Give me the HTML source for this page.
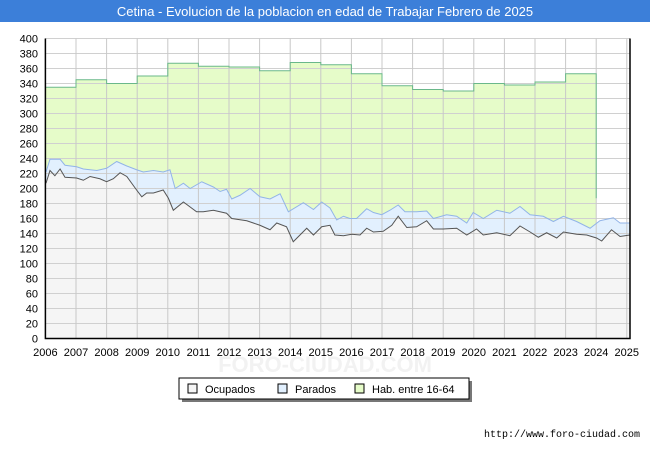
<!DOCTYPE html>
<html><head><meta charset="utf-8"><style>
body{margin:0;background:#fff;font-family:"Liberation Sans",sans-serif}
#wrap{position:relative;width:650px;height:450px;overflow:hidden}
</style></head><body>
<div id="wrap">
<svg id="c" width="650" height="450"></svg>
</div>
<script>
const habYears=[2006,2007,2008,2009,2010,2011,2012,2013,2014,2015,2016,2017,2018,2019,2020,2021,2022,2023];
const habValues=[335,345,340,350,367,363,362,357,368,365,353,337,332,330,340,338,342,353];
const habEndValue=187;
const ocuDates=[2006.02,2006.15,2006.31,2006.48,2006.64,2007.02,2007.24,2007.46,2007.78,2008.0,2008.22,2008.44,2008.66,2008.98,2009.15,2009.31,2009.53,2009.85,2010.02,2010.18,2010.51,2010.94,2011.16,2011.49,2011.92,2012.09,2012.58,2013.01,2013.34,2013.56,2013.88,2014.10,2014.54,2014.76,2015.03,2015.30,2015.46,2015.74,2016.01,2016.28,2016.50,2016.72,2017.04,2017.32,2017.53,2017.81,2018.13,2018.46,2018.68,2019.00,2019.44,2019.77,2020.09,2020.31,2020.75,2021.18,2021.51,2021.84,2022.11,2022.38,2022.71,2022.93,2023.36,2023.69,2024.01,2024.18,2024.50,2024.78,2025.10];
const ocuValues=[207,224,217,226,215,214,211,216,213,209,213,221,216,198,189,194,194,198,187,171,182,169,169,171,167,160,157,151,145,154,149,129,147,138,149,151,138,137,139,138,147,142,143,151,163,148,149,157,146,146,147,138,146,138,141,137,150,142,135,141,134,142,139,138,134,130,145,136,138];
const parDates=[2006.02,2006.15,2006.48,2006.64,2007.02,2007.24,2007.68,2008.0,2008.33,2008.66,2008.98,2009.20,2009.53,2009.85,2010.07,2010.24,2010.51,2010.73,2011.11,2011.49,2011.71,2011.92,2012.09,2012.36,2012.69,2013.01,2013.34,2013.67,2013.94,2014.43,2014.76,2015.03,2015.30,2015.52,2015.74,2015.95,2016.17,2016.50,2016.72,2016.99,2017.26,2017.53,2017.75,2018.13,2018.46,2018.68,2019.11,2019.44,2019.77,2019.98,2020.31,2020.75,2021.18,2021.51,2021.84,2022.27,2022.60,2022.93,2023.36,2023.80,2024.12,2024.56,2024.78,2025.10];
const parValues=[222,239,239,231,229,226,224,227,236,230,225,222,224,222,225,200,207,200,209,202,196,199,186,191,200,189,186,193,169,181,172,182,174,158,163,160,160,173,168,165,171,178,169,169,170,160,165,163,154,168,160,171,167,176,165,163,156,163,156,147,157,161,154,154];
const yTicks=[0,20,40,60,80,100,120,140,160,180,200,220,240,260,280,300,320,340,360,380,400];
const xTicks=[2006,2007,2008,2009,2010,2011,2012,2013,2014,2015,2016,2017,2018,2019,2020,2021,2022,2023,2024,2025];

const NS="http://www.w3.org/2000/svg";
const svg=document.getElementById('c');
const X0=45.4,X1=630,Y0=338.5,Y1=38.5;
const x=v=>X0+(v-2006)*30.6;
const y=v=>Y0-(v/400)*(Y0-Y1);
function mk(tag,attrs,parent){const e=document.createElementNS(NS,tag);for(const k in attrs)e.setAttribute(k,attrs[k]);(parent||svg).appendChild(e);return e;}

let e=mk('rect',{x:0,y:0,width:650,height:22,fill:'#3c7fd9'});


e=mk('text',{x:325,y:16,'text-anchor':'middle','font-size':13,fill:'#fff','font-family':'Liberation Sans, sans-serif'});
e.textContent='Cetina - Evolucion de la poblacion en edad de Trabajar Febrero de 2025';



e=mk('rect',{x:X0,y:Y1,width:X1-X0,height:Y0-Y1,fill:'#fff'});



// green area
let hp=`M${x(habYears[0])},${y(0)}`;
habYears.forEach((yr,i)=>{hp+=` L${x(yr)},${y(habValues[i])} L${x(yr+1)},${y(habValues[i])}`;});
const lastYr=habYears[habYears.length-1]+1;
hp+=` L${x(lastYr)},${y(habEndValue)} L${x(lastYr)},${y(0)} Z`;
e=mk('path',{d:hp,fill:'#e6fcc9',stroke:'none'});



function areaPath(d,v){let p=`M${x(d[0])},${y(0)}`;d.forEach((t,i)=>p+=` L${x(t)},${y(v[i])}`);p+=` L${x(d[d.length-1])},${y(0)} Z`;return p;}
function linePath(d,v){return d.map((t,i)=>(i?'L':'M')+x(t)+','+y(v[i])).join(' ');}
e=mk('path',{d:areaPath(parDates,parValues),fill:'#e2f0fe'});


e=mk('path',{d:areaPath(ocuDates,ocuValues),fill:'#f5f5f5'});



// grid
yTicks.forEach(t=>{const g=mk('line',{x1:X0,x2:X1,y1:y(t),y2:y(t),stroke:'#d0d0d0','stroke-width':1});


const l=mk('text',{x:38,y:y(t)+4,'text-anchor':'end','font-size':11,fill:'#000'});l.textContent=t;

});
xTicks.forEach(t=>{const g=mk('line',{x1:x(t),x2:x(t),y1:Y1,y2:Y0,stroke:'#c8c8c8','stroke-width':1});


const l=mk('text',{x:x(t),y:356,'text-anchor':'middle','font-size':11,fill:'#000'});l.textContent=t;

});

// hab line
let hl=habYears.map((yr,i)=>`${i?'L':'M'}${x(yr)},${y(habValues[i])} L${x(yr+1)},${y(habValues[i])}`).join(' ')+` L${x(lastYr)},${y(habEndValue)}`;
e=mk('path',{d:hl,fill:'none',stroke:'#6ab88a','stroke-width':1});


e=mk('path',{d:linePath(parDates,parValues),fill:'none',stroke:'#92b4e8','stroke-width':1});


e=mk('path',{d:linePath(ocuDates,ocuValues),fill:'none',stroke:'#555','stroke-width':1});



e=mk('path',{d:`M${X0},${Y1} L${X0},${Y0} L${X1},${Y0} L${X1},${Y1}`,fill:'none',stroke:'#000','stroke-width':1.5});



e=mk('text',{x:325,y:372,'text-anchor':'middle','font-size':22,fill:'#f2f2f2','font-weight':'bold'});e.textContent='FORO-CIUDAD.COM';



// legend
e=mk('rect',{x:182,y:381,width:290,height:21,fill:'#777'});


e=mk('rect',{x:179,y:378,width:290,height:21,fill:'#fff',stroke:'#000','stroke-width':1});


const leg=[['Ocupados','#f5f5f5',188],['Parados','#e2f0fe',278],['Hab. entre 16-64','#e6fcc9',355]];
leg.forEach(([n,c,lx])=>{const s=mk('rect',{x:lx,y:384,width:9,height:9,fill:c,stroke:'#000','stroke-width':1});


const t=mk('text',{x:lx+17,y:393,'font-size':11,fill:'#000'});t.textContent=n;

});

e=mk('text',{x:640,y:437,'text-anchor':'end','font-size':10,fill:'#000','font-family':'Liberation Mono, monospace'});e.textContent='http://www.foro-ciudad.com';


</script>
</body></html>
